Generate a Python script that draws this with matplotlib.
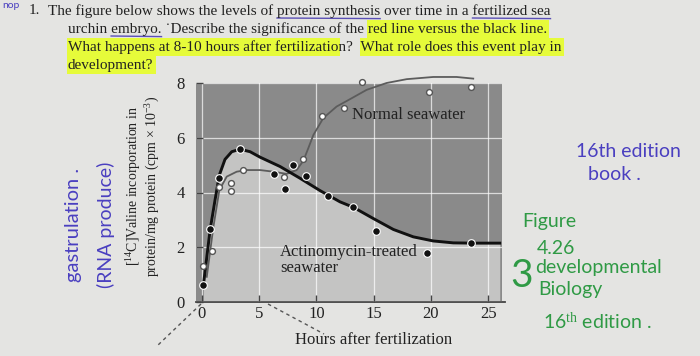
import matplotlib
matplotlib.use("Agg")
import matplotlib.pyplot as plt
from matplotlib.patches import Rectangle
from matplotlib.lines import Line2D

# ---------------- data ----------------
treated_x = [0.15, 0.73, 1.54, 3.34, 6.3, 7.27, 8.0, 9.07, 11.0, 13.17, 15.17, 19.68, 23.46]
treated_y = [0.63, 2.65, 4.52, 5.58, 4.68, 4.11, 5.0, 4.62, 3.88, 3.47, 2.59, 1.79, 2.17]
normal_x = [0.15, 0.93, 1.54, 2.53, 2.56, 3.58, 7.2, 8.8, 10.52, 12.38, 13.98, 19.83, 23.46]
normal_y = [1.32, 1.86, 4.21, 4.33, 4.07, 4.81, 4.57, 5.21, 6.81, 7.09, 8.03, 7.68, 7.84]

treated_curve_x = [0.15, 0.73, 1.16, 1.54, 2.03, 2.62, 3.34, 4.22, 5.09, 6.83, 8.58, 10.32,
                   12.06, 13.23, 14.97, 16.72, 18.46, 20.2, 21.95, 23.69, 26.0]
treated_curve_y = [0.63, 2.63, 3.72, 4.64, 5.21, 5.49, 5.58, 5.49, 5.29, 4.95, 4.52, 4.07,
                   3.66, 3.46, 3.05, 2.65, 2.38, 2.23, 2.16, 2.15, 2.15]
normal_curve_x = [0.44, 1.02, 1.54, 2.18, 3.05, 3.92, 5.09, 6.25, 7.41, 8.28, 8.87, 9.3,
                  9.74, 10.61, 11.77, 12.94, 14.39, 16.13, 17.88, 20.2, 22.24, 23.69]
normal_curve_y = [0.92, 2.75, 4.09, 4.58, 4.76, 4.82, 4.82, 4.76, 4.68, 4.82, 5.16, 5.62,
                  6.1, 6.72, 7.14, 7.41, 7.75, 8.0, 8.14, 8.22, 8.22, 8.16]

x_ticks = [0, 5, 10, 15, 20, 25]
y_ticks = [0, 2, 4, 6, 8]

question_lines = [
    "The figure below shows the levels of protein synthesis over time in a fertilized sea",
    "urchin embryo. \u02d9Describe the significance of the red line versus the black line.",
    "What happens at 8-10 hours after fertilization?  What role does this event play in",
    "development?",
]
# (line index, substring) pairs
highlights = [(1, "red line versus the black line."),
              (2, "What happens at 8-10 hours after fertilizatio"),
              (2, "What role does this event play in"),
              (3, "development?")]
underlines = [(0, "protein synthesis"), (0, "fertilized sea"), (1, "embryo.")]

ylabel_text = "[$^{14}$C]Valine incorporation in\nprotein/mg protein (cpm \u00d7 10$^{-3}$)"
xlabel = "Hours after fertilization"
label_normal = "Normal seawater"
label_treated = "Actinomycin-treated\nseawater"

W, H = 700, 356
SERIF = "Liberation Serif"
plt.rcParams['mathtext.fontset'] = 'custom'
plt.rcParams['mathtext.rm'] = SERIF
plt.rcParams['mathtext.it'] = SERIF

fig = plt.figure(figsize=(W / 100, H / 100), dpi=100)
fig.patch.set_facecolor("#e4e4e2")
renderer = fig.canvas.get_renderer()


def P(x, y):
    return (x / W, 1 - y / H)


QFS = 11


def text_width(s):
    t = fig.text(0, 0, s + "x", fontsize=QFS, family=SERIF)
    w1 = t.get_window_extent(renderer).width
    t.set_text("x")
    w2 = t.get_window_extent(renderer).width
    t.remove()
    return w1 - w2


tx = [48, 68, 68, 68]
ty = [11, 29, 47, 65]
HL = "#e6fb3a"
for (li, sub) in highlights:
    s = question_lines[li]
    i = s.index(sub)
    x0 = tx[li] + text_width(s[:i]) - 1
    x1 = tx[li] + text_width(s[:i + len(sub)]) + 2
    y0, y1 = ty[li] - 9, ty[li] + 9
    fig.patches.append(Rectangle(P(x0, y1), (x1 - x0) / W, (y1 - y0) / H,
                                 transform=fig.transFigure, facecolor=HL, edgecolor="none", zorder=0))
for (li, sub) in underlines:
    s = question_lines[li]
    i = s.index(sub)
    x0 = tx[li] + text_width(s[:i])
    x1 = tx[li] + text_width(s[:i + len(sub)])
    y = ty[li] + 7
    fig.lines.append(Line2D([x0 / W, x1 / W], [1 - y / H, 1 - (y + 0.6) / H], transform=fig.transFigure,
                            color="#5a4fb5", lw=1.0))

fig.text(*P(29, 11), "1.", fontsize=QFS, family=SERIF, color="#222", va="center")
for s, x, y in zip(question_lines, tx, ty):
    fig.text(*P(x, y), s, fontsize=QFS, family=SERIF, color="#222", va="center")
fig.text(*P(2, 5), "nop", fontsize=7.5, family="Lato", color="#4a3fc0", va="center")

# ---------------- axes ----------------
ax = fig.add_axes([196 / W, 54 / H, 306 / W, 219 / H])
ax.set_xlim(-0.5, 26.2)
ax.set_ylim(0, 8)
ax.set_facecolor("#8a8a8a")
ax.fill_between(treated_curve_x, 0, treated_curve_y, color="#c4c4c3", lw=0, zorder=1)
ax.set_axisbelow(False)
ax.grid(True, color="white", lw=0.9, alpha=0.7)
ax.set_xticks(x_ticks)
ax.set_yticks(y_ticks)
for sp in ["left", "top", "right"]:
    ax.spines[sp].set_visible(False)
ax.spines["bottom"].set_color("#444")
ax.spines["bottom"].set_linewidth(1.3)
ax.spines["bottom"].set_bounds(-0.5, 26.5)
ax.tick_params(axis="x", direction="in", length=5, width=1, color="#444", pad=3, labelsize=12)
ax.tick_params(axis="y", direction="in", length=5, width=1, color="#444", pad=8, labelsize=12)
for lab in ax.get_xticklabels() + ax.get_yticklabels():
    lab.set_family(SERIF)
    lab.set_color("#222")

ax.plot(normal_curve_x, normal_curve_y, color="#5c5c5c", lw=1.3, zorder=3, clip_on=False)
ax.plot(treated_curve_x, treated_curve_y, color="#111", lw=2.1, zorder=3.2, clip_on=False)
ax.plot(normal_x, normal_y, "o", ms=4.2, mfc="white", mec="#555", mew=1.0, zorder=4, clip_on=False)
ax.plot(treated_x, treated_y, "o", ms=5.5, mfc="#111", mec="white", mew=0.8, zorder=4.2, clip_on=False)

ax.text(13.1, 6.84, label_normal, fontsize=12, family=SERIF, color="#222", va="center", zorder=5)
ax.text(6.83, 1.55, label_treated, fontsize=12, family=SERIF, color="#222", va="center",
        linespacing=1.0, zorder=5)

fig.text(*P(374, 340), xlabel, fontsize=12, family=SERIF, color="#222", ha="center", va="center")
fig.text(*P(143, 186), ylabel_text, fontsize=10, family=SERIF, color="#222",
         ha="center", va="center", rotation=90, linespacing=1.05, multialignment="center")

# dashed callout lines
for (x0, y0, x1, y1) in [(201, 304, 157, 346), (268, 304, 324, 334)]:
    fig.lines.append(Line2D([x0 / W, x1 / W], [1 - y0 / H, 1 - y1 / H], transform=fig.transFigure,
                            color="#555", lw=1.0, ls=(0, (2.5, 2.5))))

# ---------------- handwritten notes ----------------
HAND = "Lato"
BLUE = "#4a3fc0"
GREEN = "#2f9a45"
fig.text(*P(74, 225), "gastrulation .", fontsize=14.5, family=HAND, color=BLUE,
         ha="center", va="center", rotation=90)
fig.text(*P(106, 225), "(RNA produce)", fontsize=14, family=HAND, color=BLUE,
         ha="center", va="center", rotation=90)
fig.text(*P(576, 152), "16th edition", fontsize=14, family=HAND, color=BLUE, va="center")
fig.text(*P(588, 175), "book .", fontsize=14, family=HAND, color=BLUE, va="center")
fig.text(*P(522, 222), "Figure", fontsize=14, family=HAND, color=GREEN, va="center")
fig.text(*P(537, 248), "4.26", fontsize=14, family=HAND, color=GREEN, va="center")
fig.text(*P(535, 268), "developmental", fontsize=14, family=HAND, color=GREEN, va="center")
fig.text(*P(538, 290), "Biology", fontsize=14, family=HAND, color=GREEN, va="center")
fig.text(*P(543, 321), "16$^{th}$ edition .", fontsize=14, family=HAND, color=GREEN, va="center")
fig.text(*P(522, 276), "3", fontsize=28, family=HAND, color=GREEN, va="center", ha="center")

fig.savefig("out.png", dpi=100, facecolor=fig.get_facecolor())
